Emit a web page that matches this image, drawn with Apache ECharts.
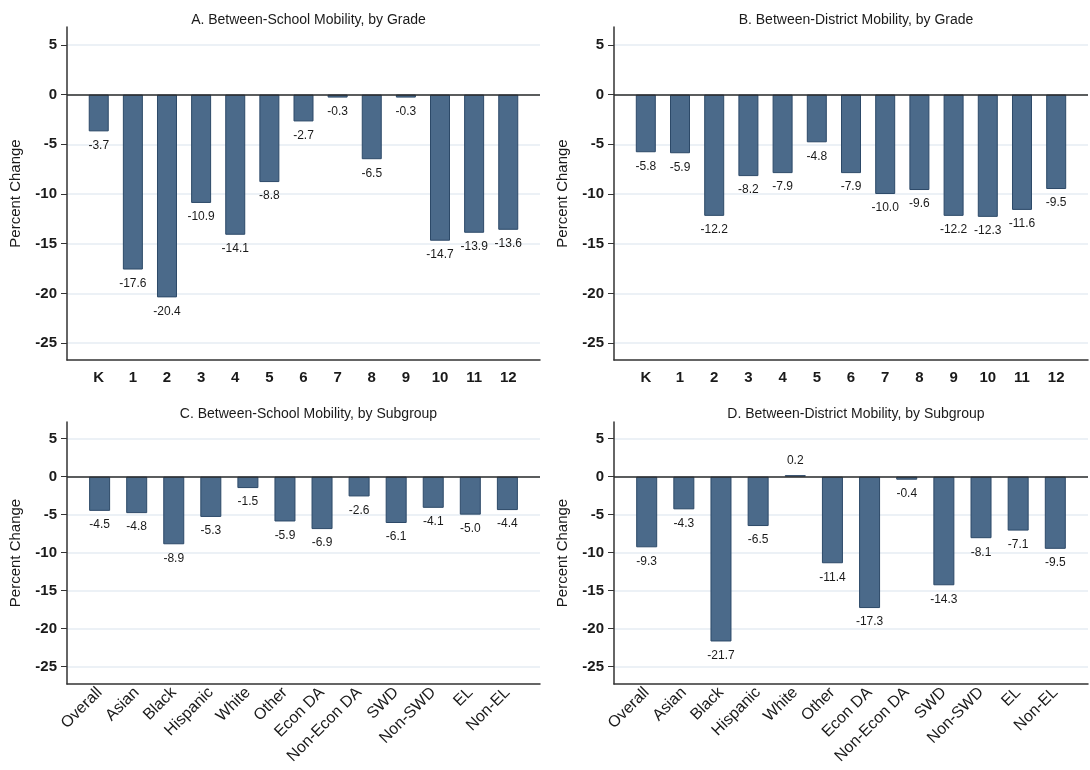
<!DOCTYPE html>
<html>
<head>
<meta charset="utf-8">
<script src="https://cdn.jsdelivr.net/npm/echarts@6/dist/echarts.min.js"></script>
<style>
  html, body { margin: 0; padding: 0; background: #fff; }
  #chart { width: 1090px; height: 770px; }
</style>
</head>
<body>
<div id="chart"></div>
<script>
// Categories
const grades = ['K', '1', '2', '3', '4', '5', '6', '7', '8', '9', '10', '11', '12'];
const subgroups = ['Overall', 'Asian', 'Black', 'Hispanic', 'White', 'Other', 'Econ DA',
  'Non-Econ DA', 'SWD', 'Non-SWD', 'EL', 'Non-EL'];

// Percent change in mobility
const schoolByGrade = [-3.7, -17.6, -20.4, -10.9, -14.1, -8.8, -2.7, -0.3, -6.5, -0.3, -14.7, -13.9, -13.6];
const districtByGrade = [-5.8, -5.9, -12.2, -8.2, -7.9, -4.8, -7.9, -10.0, -9.6, -12.2, -12.3, -11.6, -9.5];
const schoolBySubgroup = [-4.5, -4.8, -8.9, -5.3, -1.5, -5.9, -6.9, -2.6, -6.1, -4.1, -5.0, -4.4];
const districtBySubgroup = [-9.3, -4.3, -21.7, -6.5, 0.2, -11.4, -17.3, -0.4, -14.3, -8.1, -7.1, -9.5];

// Y tick values
const yTicks = [-25, -20, -15, -10, -5, 0, 5];

const panelTitles = [
  'A. Between-School Mobility, by Grade',
  'B. Between-District Mobility, by Grade',
  'C. Between-School Mobility, by Subgroup',
  'D. Between-District Mobility, by Subgroup'
];

const FONT = '"Liberation Sans", Arial, sans-serif';
const BAR_FILL = '#4b6a8a';
const BAR_EDGE = '#2c4968';
const INK = '#1a1a1a';

const panels = [
  { cats: grades, vals: schoolByGrade, grid: { left: 67, top: 27, width: 473, height: 333 },
    yMin: -26.7, yMax: 6.8, xPad: 0.93, barWidth: 20, rotate: 0 },
  { cats: grades, vals: districtByGrade, grid: { left: 614, top: 27, width: 474, height: 333 },
    yMin: -26.7, yMax: 6.8, xPad: 0.93, barWidth: 20, rotate: 0 },
  { cats: subgroups, vals: schoolBySubgroup, grid: { left: 67, top: 422, width: 473, height: 262 },
    yMin: -27.3, yMax: 7.2, xPad: 0.88, barWidth: 21, rotate: 45 },
  { cats: subgroups, vals: districtBySubgroup, grid: { left: 614, top: 422, width: 474, height: 262 },
    yMin: -27.3, yMax: 7.2, xPad: 0.88, barWidth: 21, rotate: 45 }
];

const option = {
  backgroundColor: '#ffffff',
  animation: false,
  textStyle: { fontFamily: FONT },
  title: [],
  grid: [],
  xAxis: [],
  yAxis: [],
  series: []
};

panels.forEach((p, k) => {
  option.title.push({
    text: panelTitles[k],
    left: p.grid.left + p.grid.width / 2,
    top: k < 2 ? 8 : 402,
    textAlign: 'center',
    textStyle: { fontFamily: FONT, fontSize: 14, fontWeight: 'normal', color: INK }
  });
  option.grid.push(Object.assign({ containLabel: false }, p.grid));

  const idx = p.cats.map((_, i) => i);
  option.xAxis.push({
    type: 'value',
    gridIndex: k,
    position: 'bottom',
    min: -p.xPad,
    max: p.cats.length - 1 + p.xPad,
    axisLine: { show: true, onZero: false, lineStyle: { color: '#333', width: 1.5 } },
    axisTick: { show: false },
    splitLine: { show: false },
    axisLabel: {
      customValues: idx,
      formatter: v => p.cats[Math.round(v)],
      fontFamily: FONT,
      fontSize: p.rotate ? 16 : 15,
      fontWeight: p.rotate ? 'normal' : 'bold',
      color: INK,
      rotate: p.rotate,
      margin: p.rotate ? 6 : 10
    }
  });
  option.yAxis.push({
    type: 'value',
    gridIndex: k,
    position: 'left',
    min: p.yMin,
    max: p.yMax,
    name: 'Percent Change',
    nameLocation: 'middle',
    nameGap: 44,
    nameTextStyle: { fontFamily: FONT, fontSize: 15, color: INK },
    axisLine: { show: true, onZero: false, lineStyle: { color: '#333', width: 1.5 } },
    axisTick: { show: true, length: 6, customValues: yTicks, lineStyle: { color: '#333' } },
    axisLabel: {
      customValues: yTicks,
      fontFamily: FONT, fontSize: 15, fontWeight: 'bold', color: INK, margin: 10
    },
    splitLine: { show: true, lineStyle: { color: '#e6edf3', width: 1.5 } }
  });
  option.series.push({
    type: 'bar',
    xAxisIndex: k,
    yAxisIndex: k,
    barWidth: p.barWidth,
    itemStyle: { color: BAR_FILL, borderColor: BAR_EDGE, borderWidth: 1 },
    label: {
      show: true,
      fontFamily: FONT,
      fontSize: 12,
      color: INK,
      distance: 8,
      formatter: d => d.value[1].toFixed(1)
    },
    data: p.vals.map((v, i) => ({
      value: [i, v],
      label: { position: v >= 0 ? 'top' : 'bottom' }
    })),
    markLine: {
      silent: true,
      symbol: 'none',
      label: { show: false },
      lineStyle: { color: '#2b2b2b', width: 1.6, type: 'solid' },
      data: [{ yAxis: 0 }]
    },
    z: 3
  });
});

const chart = echarts.init(document.getElementById('chart'), null, { renderer: 'canvas' });
chart.setOption(option);
</script>
</body>
</html>
